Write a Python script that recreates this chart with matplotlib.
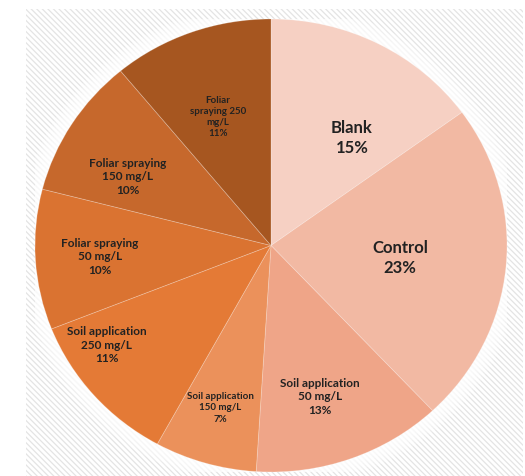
import matplotlib.pyplot as plt
from matplotlib.patches import Rectangle, Ellipse

plt.rcParams["font.family"] = ["Lato", "DejaVu Sans"]
plt.rcParams["hatch.color"] = "#e4e4e4"
plt.rcParams["hatch.linewidth"] = 0.9

labels = ["Blank", "Control", "Soil application\n50 mg/L", "Soil application\n150 mg/L",
          "Soil application\n250 mg/L", "Foliar spraying\n50 mg/L", "Foliar spraying\n150 mg/L",
          "Foliar\nspraying 250\nmg/L"]
shares = [15, 23, 13, 7, 11, 10, 10, 11]
colors = ["#f6d0c3", "#f2b9a3", "#efa588", "#eb915b", "#e47a36", "#da7331", "#c6682c", "#a65620"]

# label placement (data coords) and font sizes
label_pos = [(0.343, 0.479), (0.547, -0.051), (0.208, -0.664), (-0.216, -0.713),
             (-0.695, -0.435), (-0.725, -0.046), (-0.606, 0.307), (-0.225, 0.572)]
label_size = [12, 12, 8.5, 7, 8.5, 8.5, 8.5, 7]

fig = plt.figure(figsize=(5.25, 4.77), dpi=100)

bg = Rectangle((26 / 525, 0), 497 / 525, 467 / 477, transform=fig.transFigure,
               facecolor="white", edgecolor="#e4e4e4", linewidth=0, hatch="\\\\\\\\\\\\",
               zorder=-5)
fig.patches.append(bg)

ax = fig.add_axes([35 / 525, 4 / 477, 472 / 525, 453 / 477])
ax.set_zorder(2)

# soft shadow around the pie
for k in range(6):
    s = 1.0 + 0.012 * (k + 1)
    ax.add_patch(Ellipse((0, 0), 2 * s, 2 * s, facecolor="white", alpha=0.25,
                         edgecolor="none", zorder=0))

ax.pie(shares, colors=colors, startangle=90, counterclock=False,
       wedgeprops=dict(edgecolor=(1, 1, 1, 0.25), linewidth=0.6, zorder=1))
ax.set_aspect("auto")
ax.set_xlim(-1, 1)
ax.set_ylim(-1, 1)
ax.axis("off")

for lab, val, (x, y), fs in zip(labels, shares, label_pos, label_size):
    ax.text(x, y, f"{lab}\n{val}%", ha="center", va="center", fontsize=fs,
            fontweight="bold", color="#222222", linespacing=1.3)

fig.savefig("out.png", dpi=100)
